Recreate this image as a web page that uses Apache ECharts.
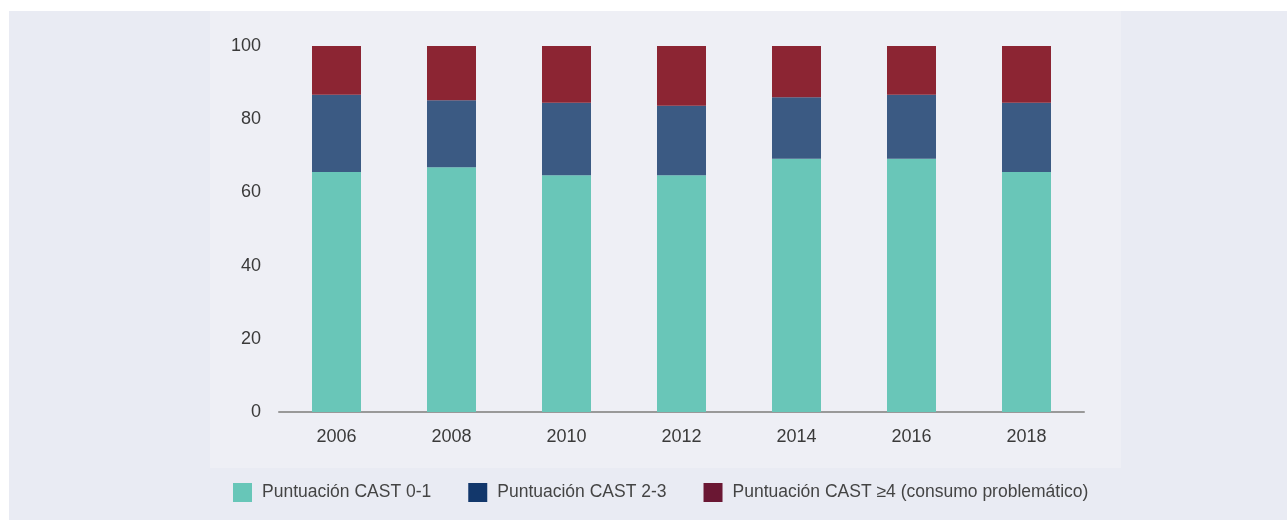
<!DOCTYPE html>
<html>
<head>
<meta charset="utf-8">
<script src="https://cdn.jsdelivr.net/npm/echarts@6/dist/echarts.min.js"></script>
<style>
  html, body { margin: 0; padding: 0; background: #ffffff; }
  #ch { width: 1287px; height: 520px; }
</style>
</head>
<body>
<div id="ch"></div>
<script>
var years = ['2006', '2008', '2010', '2012', '2014', '2016', '2018'];
var cast01 = [65.6, 66.9, 64.7, 64.7, 69.2, 69.2, 65.6];
var cast23 = [21.1, 18.3, 19.8, 19.0, 16.8, 17.5, 18.9];
var cast4 = [13.3, 14.8, 15.5, 16.3, 14.0, 13.3, 15.5];
var yTicks = [0, 20, 40, 60, 80, 100];

var names = ['Puntuación CAST 0-1', 'Puntuación CAST 2-3', 'Puntuación CAST ≥4 (consumo problemático)'];
var barColors = ['#69c6b8', '#3b5a83', '#8c2533'];
var legendColors = ['#67c6b8', '#12376b', '#6a1733'];

var chart = echarts.init(document.getElementById('ch'));
var font = '"Liberation Sans", Arial, sans-serif';

function mk(i, data) {
    return {
        name: names[i],
        type: 'bar',
        stack: 'a',
        barWidth: 49,
        data: data,
        itemStyle: { color: barColors[i] }
    };
}

var option = {
    animation: false,
    graphic: [
        { type: 'rect', z: -10, shape: { x: 9, y: 11, width: 1278, height: 509 }, style: { fill: '#e9ebf3' } },
        { type: 'rect', z: -9, shape: { x: 210, y: 11, width: 911, height: 457 }, style: { fill: '#eeeff5' } }
    ],
    grid: { left: 279, right: 203, top: 46, bottom: 108 },
    legend: {
        left: 233,
        top: 483,
        padding: 0,
        itemWidth: 19,
        itemHeight: 19,
        itemGap: 37,
        icon: 'rect',
        textStyle: { fontFamily: font, fontSize: 17.5, color: '#444', padding: [0, 0, 0, 5] },
        data: names.map(function (n, i) {
            return { name: n, itemStyle: { color: legendColors[i] } };
        })
    },
    xAxis: {
        type: 'category',
        data: years,
        axisLine: { lineStyle: { color: '#999', width: 2 } },
        axisTick: { show: false },
        axisLabel: { fontFamily: font, fontSize: 18, color: '#3a3a3a', margin: 16 }
    },
    yAxis: {
        type: 'value',
        min: 0,
        max: 100,
        interval: 20,
        axisLine: { show: false },
        axisTick: { show: false },
        splitLine: { show: false },
        axisLabel: {
            fontFamily: font, fontSize: 18, color: '#3a3a3a', margin: 18,
            formatter: function (v) { return yTicks.indexOf(v) >= 0 ? String(v) : ''; }
        }
    },
    series: [mk(0, cast01), mk(1, cast23), mk(2, cast4)]
};
chart.setOption(option);
</script>
</body>
</html>
